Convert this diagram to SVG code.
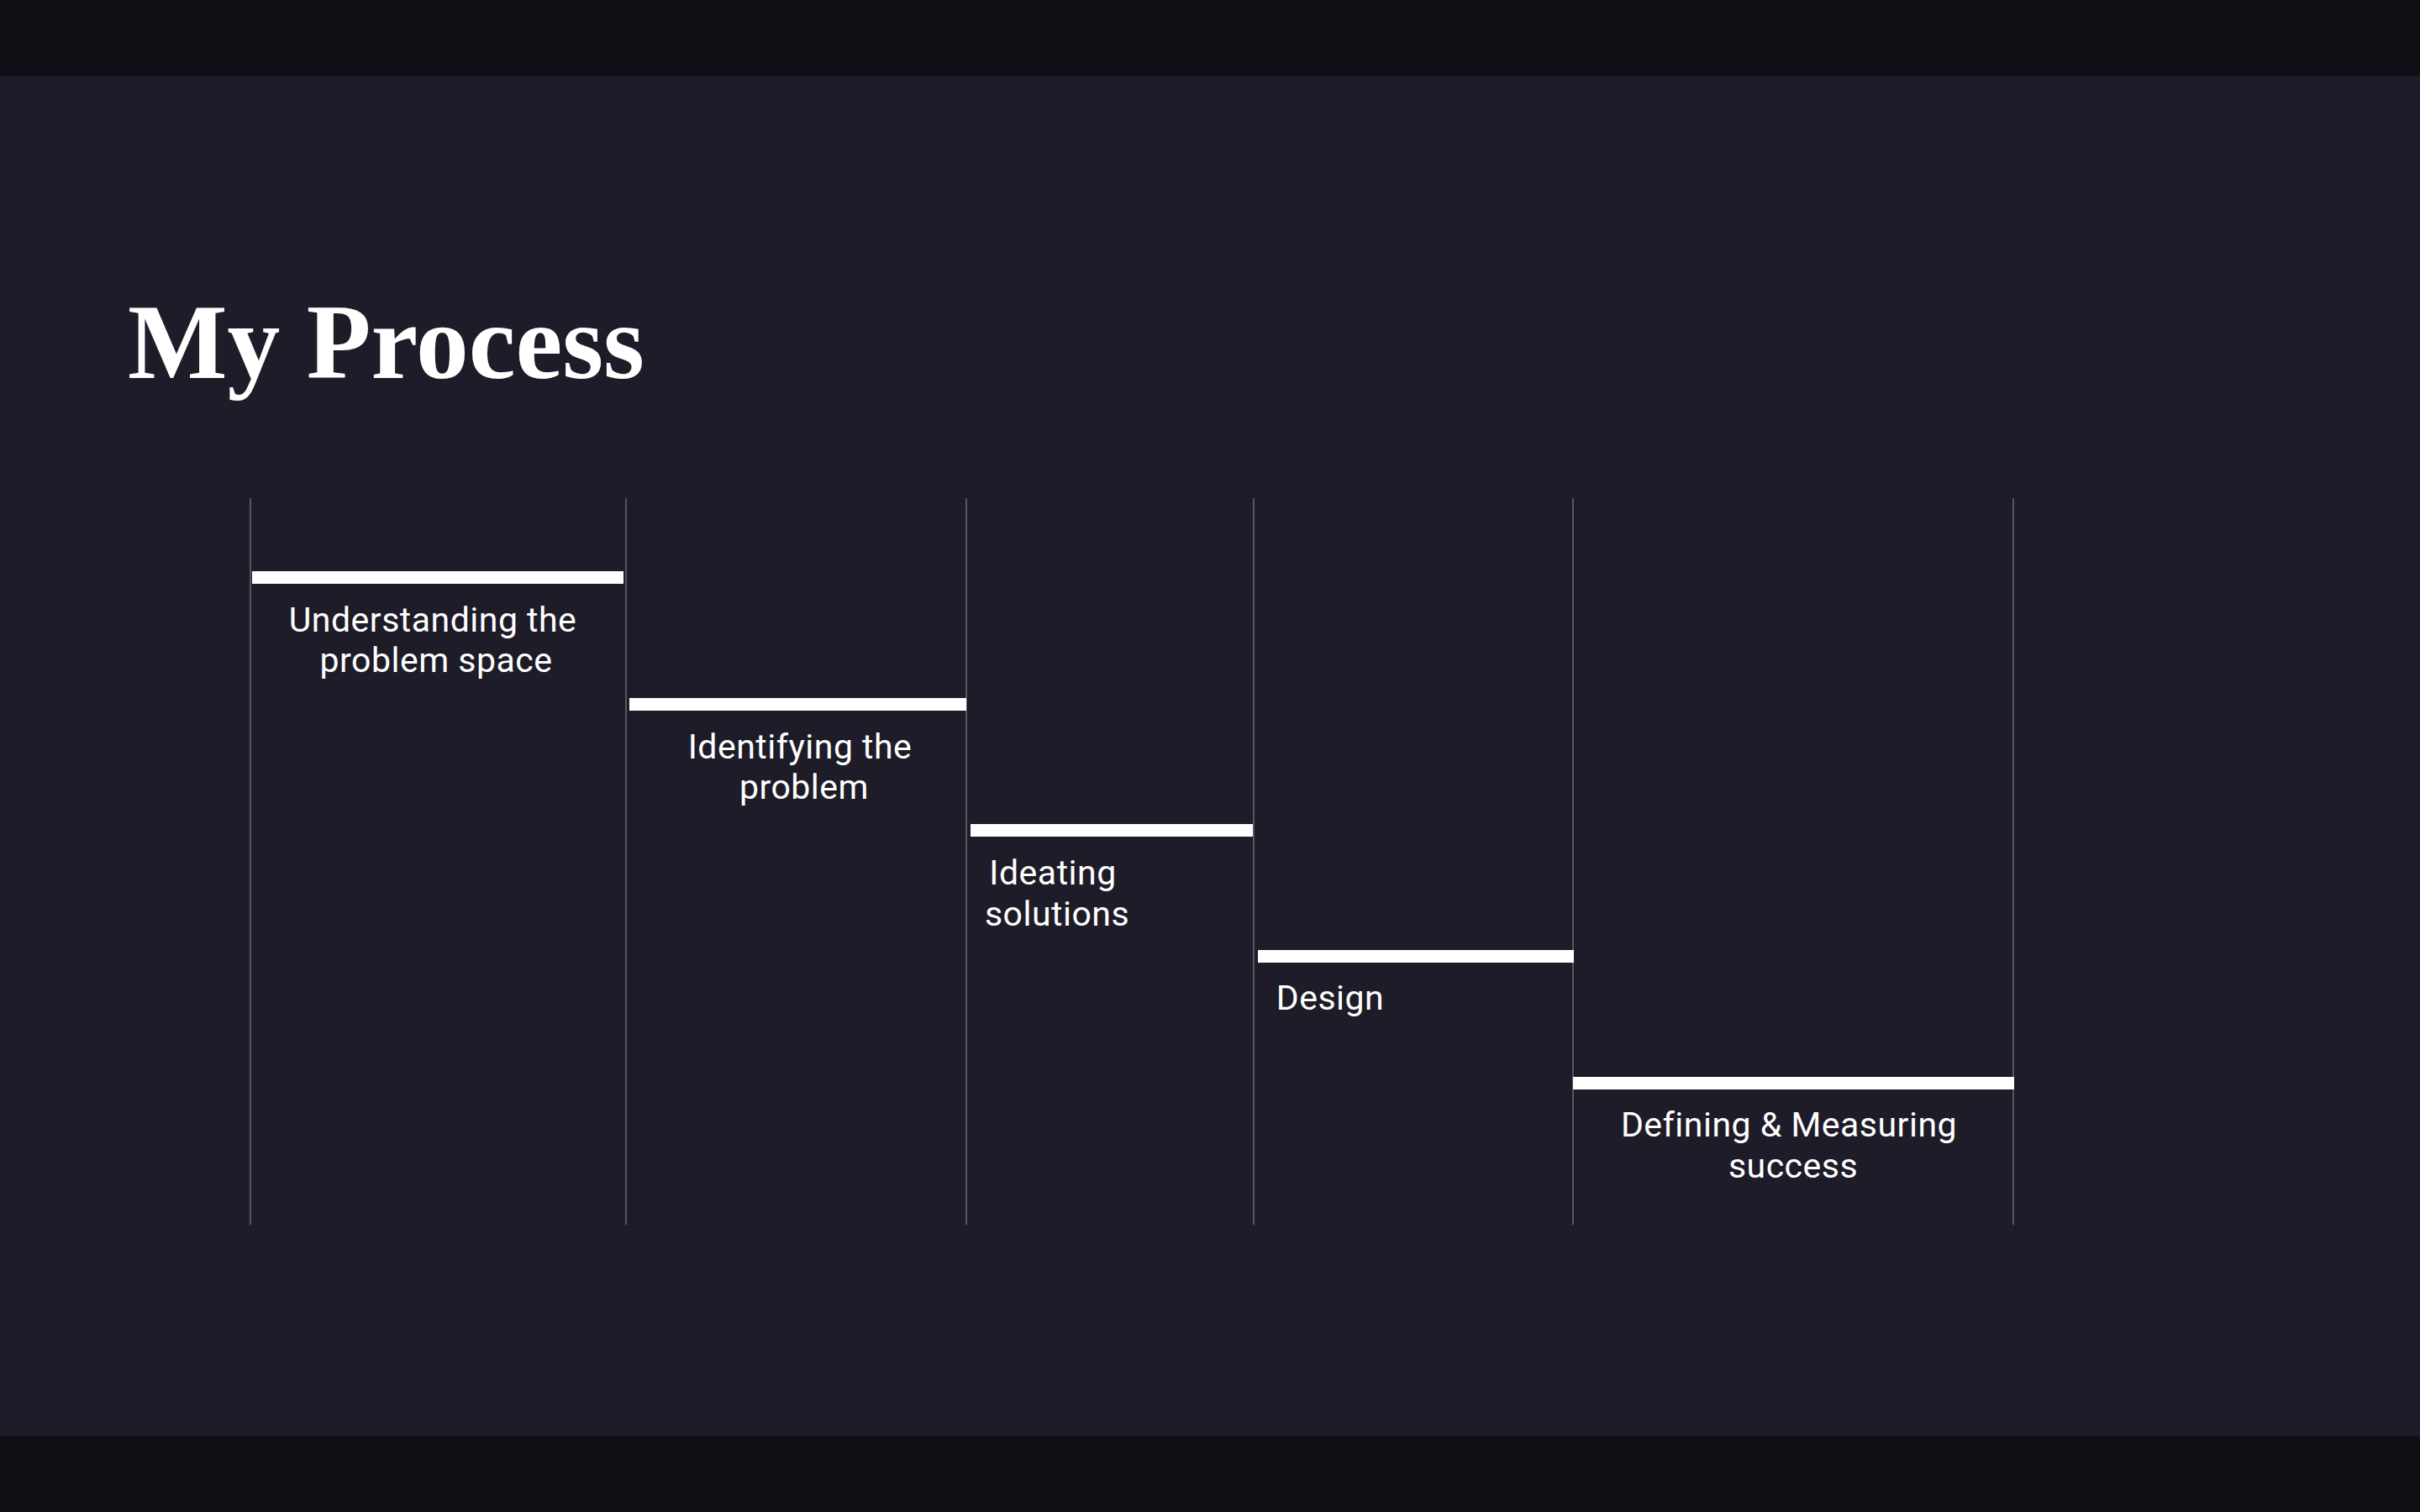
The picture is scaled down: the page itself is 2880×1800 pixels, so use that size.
<svg xmlns="http://www.w3.org/2000/svg" width="2880" height="1800" viewBox="0 0 2880 1800">
  <style>
    .band { fill: #0e0e15; }
    .divider { stroke: #6b6978; stroke-width: 1.5; }
    .bar { fill: #ffffff; }
    .label { font-family: Roboto, "Liberation Sans", sans-serif; font-size: 41px; letter-spacing: 0.5px; fill: #ffffff; text-anchor: middle; }
    .title { font-family: "Liberation Serif", "DejaVu Serif", serif; font-weight: bold; font-size: 127px; fill: #ffffff; }
  </style>
  <rect x="0" y="0" width="2880" height="1800" fill="#1e1c28"/>
  <rect class="band" x="0" y="0" width="2880" height="90"/>
  <rect class="band" x="0" y="1710" width="2880" height="90"/>

  <text class="title" x="152" y="450" textLength="615" lengthAdjust="spacingAndGlyphs">My Process</text>

  <g id="connectors">
    <line class="divider" x1="298" y1="593" x2="298" y2="1458"/>
    <line class="divider" x1="745" y1="593" x2="745" y2="1458"/>
    <line class="divider" x1="1150" y1="593" x2="1150" y2="1458"/>
    <line class="divider" x1="1492" y1="593" x2="1492" y2="1458"/>
    <line class="divider" x1="1872" y1="593" x2="1872" y2="1458"/>
    <line class="divider" x1="2396" y1="593" x2="2396" y2="1458"/>
  </g>

  <g id="step-understanding">
    <rect class="bar" x="300" y="680" width="442" height="15"/>
    <text class="label" x="515" y="752">Understanding the</text>
    <text class="label" x="519" y="800">problem space</text>
  </g>

  <g id="step-identifying">
    <rect class="bar" x="749" y="831" width="401" height="15"/>
    <text class="label" x="952" y="903">Identifying the</text>
    <text class="label" x="957" y="951">problem</text>
  </g>

  <g id="step-ideating">
    <rect class="bar" x="1155" y="981" width="336" height="15"/>
    <text class="label" x="1253" y="1053">Ideating</text>
    <text class="label" x="1258" y="1102">solutions</text>
  </g>

  <g id="step-design">
    <rect class="bar" x="1497" y="1131" width="376" height="15"/>
    <text class="label" x="1583" y="1202">Design</text>
  </g>

  <g id="step-success">
    <rect class="bar" x="1872" y="1282" width="525" height="15"/>
    <text class="label" x="2129" y="1353">Defining &amp; Measuring</text>
    <text class="label" x="2134" y="1402">success</text>
  </g>
</svg>
